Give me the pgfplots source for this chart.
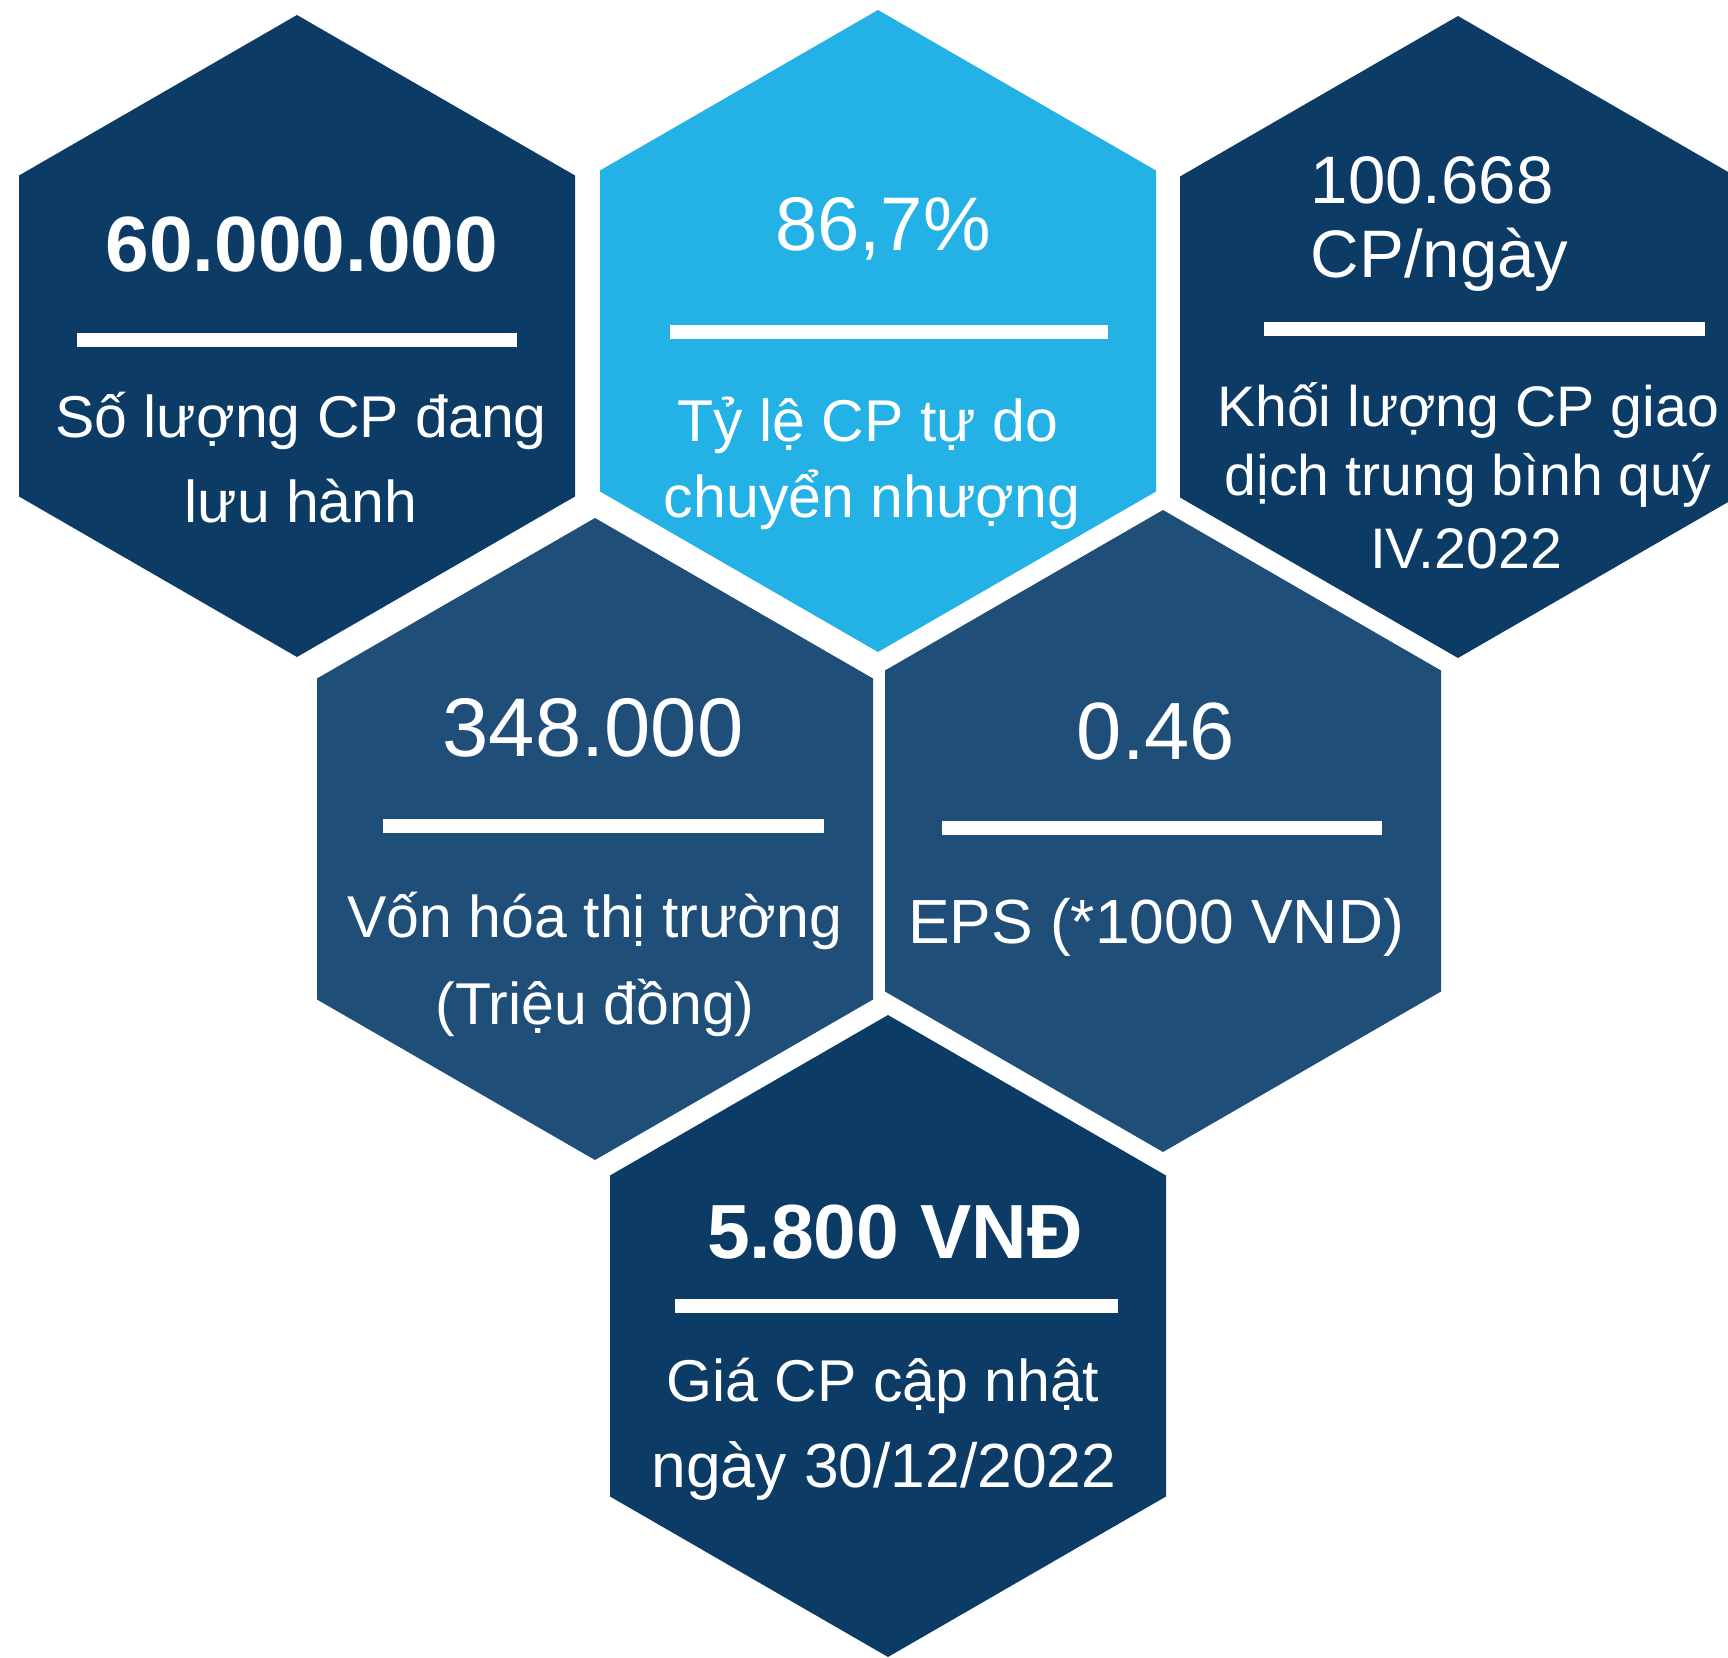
\documentclass[border=0pt]{standalone}
\usepackage{fontspec}
\setmainfont{Liberation Sans}
\usepackage{pgfplots}
\pgfplotsset{compat=1.18}
\definecolor{navy}{RGB}{12,59,102}
\definecolor{midblue}{RGB}{31,78,121}
\definecolor{skyblue}{RGB}{35,177,230}
\tikzset{
  lab/.style={anchor=base, text=white, inner sep=0pt, font=\fontsize{14.75}{17}\selectfont},
  val/.style={anchor=base, text=white, inner sep=0pt},
}
\begin{document}
\begin{tikzpicture}
\begin{axis}[x=0.25pt, y=0.25pt, xmin=0, xmax=1728, ymin=0, ymax=1658,
  y dir=reverse, hide axis, clip=true]
% invisible frame so the picture spans the whole canvas
\addplot[draw=none, fill=none] coordinates {(0,0) (1728,1658)};
% hexagons
\addplot[fill=navy, draw=none] coordinates {(297,15) (575,175.5) (575,496.5) (297,657) (19,496.5) (19,175.5)} -- cycle;
\addplot[fill=skyblue, draw=none] coordinates {(878,10) (1156,170.5) (1156,491.5) (878,652) (600,491.5) (600,170.5)} -- cycle;
\addplot[fill=navy, draw=none] coordinates {(1458,16) (1728,171.9) (1728,502.1) (1458,658) (1180,497.5) (1180,176.5)} -- cycle;
\addplot[fill=midblue, draw=none] coordinates {(595,518) (873,678.5) (873,999.5) (595,1160) (317,999.5) (317,678.5)} -- cycle;
\addplot[fill=midblue, draw=none] coordinates {(1163,510) (1441,670.5) (1441,991.5) (1163,1152) (885,991.5) (885,670.5)} -- cycle;
\addplot[fill=navy, draw=none] coordinates {(888,1015) (1166,1175.5) (1166,1496.5) (888,1657) (610,1496.5) (610,1175.5)} -- cycle;
% separator lines
\addplot[white, line width=3.5pt] coordinates {(77,340) (517,340)};
\addplot[white, line width=3.5pt] coordinates {(670,332) (1108,332)};
\addplot[white, line width=3.5pt] coordinates {(1264,329) (1705,329)};
\addplot[white, line width=3.5pt] coordinates {(383,826) (824,826)};
\addplot[white, line width=3.5pt] coordinates {(942,828) (1382,828)};
\addplot[white, line width=3.5pt] coordinates {(675,1306) (1118,1306)};
% hexagon 1
\node[val, font=\fontsize{19.6}{22}\selectfont\bfseries] at (axis cs:302,272) {60.000.000};
\node[lab] at (axis cs:301,438) {Số lượng CP đang};
\node[lab] at (axis cs:301,523) {lưu hành};
% hexagon 2
\node[val, font=\fontsize{19}{22}\selectfont] at (axis cs:883,251) {86,7\%};
\node[lab] at (axis cs:868,442) {Tỷ lệ CP tự do};
\node[lab] at (axis cs:872,518) {chuyển nhượng};
% hexagon 3
\node[val, anchor=base west, font=\fontsize{16.8}{20}\selectfont] at (axis cs:1310,204) {100.668};
\node[val, anchor=base west, font=\fontsize{16.8}{20}\selectfont] at (axis cs:1310,278) {CP/ngày};
\node[lab, font=\fontsize{14.3}{17}\selectfont] at (axis cs:1468,427) {Khối lượng CP giao};
\node[lab, font=\fontsize{14.3}{17}\selectfont] at (axis cs:1468,496) {dịch trung bình quý};
\node[lab, font=\fontsize{14.3}{17}\selectfont] at (axis cs:1466,569) {IV.2022};
% hexagon 4
\node[val, font=\fontsize{20.8}{24}\selectfont] at (axis cs:593,757) {348.000};
\node[lab] at (axis cs:595,937) {Vốn hóa thị trường};
\node[lab] at (axis cs:595,1024) {(Triệu đồng)};
% hexagon 5
\node[val, font=\fontsize{20.3}{23}\selectfont] at (axis cs:1156,759) {0.46};
\node[lab, font=\fontsize{15.6}{18}\selectfont] at (axis cs:1156,944) {EPS (*1000 VND)};
% hexagon 6
\node[val, font=\fontsize{19.2}{22}\selectfont\bfseries] at (axis cs:895,1258) {5.800 VNĐ};
\node[lab] at (axis cs:883,1401) {Giá CP cập nhật};
\node[lab, font=\fontsize{15.6}{18}\selectfont] at (axis cs:884,1487) {ngày 30/12/2022};
\end{axis}
\end{tikzpicture}
\end{document}
